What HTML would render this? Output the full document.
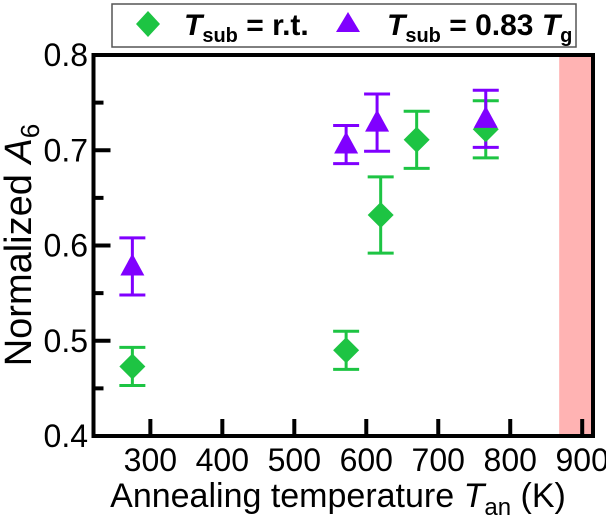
<!DOCTYPE html>
<html><head><meta charset="utf-8"><style>
body{margin:0;background:#fff}
svg{display:block;font-family:"Liberation Sans",sans-serif}
</style></head><body>
<svg width="606" height="520" viewBox="0 0 606 520">
<rect x="0" y="0" width="606" height="520" fill="#fff"/>
<rect x="868" y="0" width="0" height="0" id="band" fill="#ffb3b3"/>
<g id="ticks"></g>
<g id="marks"></g>
<rect x="93.5" y="55" width="499.5" height="381" fill="none" stroke="#000" stroke-width="4"/>
<g>
<rect x="112" y="4" width="464" height="43" fill="#fff" stroke="#555" stroke-width="1.5"/>
<polygon points="148,11 160,24 148,37 136,24" fill="#1dc443"/>
<text x="184" y="35" font-size="30" font-weight="bold"><tspan font-style="italic">T</tspan><tspan font-size="20" dy="7">sub</tspan><tspan dy="-7"> = r.t.</tspan></text>
<polygon points="348,12 360,32 336,32" fill="#8000ff"/>
<text x="387" y="35" font-size="30" font-weight="bold"><tspan font-style="italic">T</tspan><tspan font-size="20" dy="7">sub</tspan><tspan dy="-7"> = 0.83 </tspan><tspan font-style="italic">T</tspan><tspan font-size="20" dy="7">g</tspan></text>
</g>
<text x="338" y="507" font-size="34" text-anchor="middle">Annealing temperature <tspan font-style="italic">T</tspan><tspan font-size="24" dy="8">an</tspan><tspan dy="-8"> (K)</tspan></text>
<text transform="translate(31,245) rotate(-90)" font-size="38" text-anchor="middle">Normalized <tspan font-style="italic">A</tspan><tspan font-size="26" dy="8">6</tspan></text>
</svg>
<script>
const xTicks=[300,400,500,600,700,800,900];
const yTicks=[0.4,0.5,0.6,0.7,0.8];
const yMinor=[0.45,0.55,0.65,0.75];
const tgStart=868;
const rtT=[275,572,620,670,766];
const rtVal=[0.473,0.490,0.632,0.711,0.722];
const rtErr=[0.020,0.020,0.040,0.030,0.030];
const hT=[275,572,615,766];
const hVal=[0.578,0.706,0.729,0.733];
const hErr=[0.030,0.020,0.030,0.030];
const X0=93.5,X1=593,Y0=436,Y1=55;
const sx=t=>X0+(t-221)/(915-221)*(X1-X0);
const sy=v=>Y0-(v-0.4)/0.4*(Y0-Y1);
const NS="http://www.w3.org/2000/svg";
function mk(tag,attrs,parent){const e=document.createElementNS(NS,tag);for(const k in attrs)e.setAttribute(k,attrs[k]);parent.appendChild(e);return e;}
const band=document.getElementById('band');
band.setAttribute('x',sx(tgStart));band.setAttribute('y',Y1);band.setAttribute('width',X1-sx(tgStart));band.setAttribute('height',Y0-Y1);
const tk=document.getElementById('ticks'),mg=document.getElementById('marks');
xTicks.forEach(t=>{
 const l=mk('line',{x1:sx(t),x2:sx(t),y1:Y0,y2:Y0-17,stroke:'#000','stroke-width':4},tk);
 
 
 const tx=mk('text',{x:sx(t),y:471,'font-size':32,'text-anchor':'middle'},tk);tx.textContent=t;
 
 
});
yTicks.forEach(v=>{
 const l=mk('line',{x1:X0,x2:X0+17,y1:sy(v),y2:sy(v),stroke:'#000','stroke-width':4},tk);
 
 
 const tx=mk('text',{x:88,y:sy(v)+11,'font-size':32,'text-anchor':'end'},tk);tx.textContent=v.toFixed(1);
 
 
});
yMinor.forEach(v=>{
 const l=mk('line',{x1:X0,x2:X0+10,y1:sy(v),y2:sy(v),stroke:'#000','stroke-width':4},tk);
 
 
});
function err(t,v,e,c){
 const g=mk('g',{stroke:c,'stroke-width':3,fill:'none'},mg);
 
 
 const x=sx(t),a=sy(v+e),b=sy(v-e);
 mk('line',{x1:x,x2:x,y1:a,y2:b},g);mk('line',{x1:x-13,x2:x+13,y1:a,y2:a},g);mk('line',{x1:x-13,x2:x+13,y1:b,y2:b},g);
}
rtT.forEach((t,i)=>err(t,rtVal[i],rtErr[i],'#1dc443'));
hT.forEach((t,i)=>err(t,hVal[i],hErr[i],'#8000ff'));
rtT.forEach((t,i)=>{const x=sx(t),y=sy(rtVal[i]);
 const p=mk('polygon',{points:`${x},${y-13} ${x+13},${y} ${x},${y+13} ${x-13},${y}`,fill:'#1dc443'},mg);
 
 });
hT.forEach((t,i)=>{const x=sx(t),y=sy(hVal[i]);
 const p=mk('polygon',{points:`${x},${y-13} ${x+12},${y+9} ${x-12},${y+9}`,fill:'#8000ff'},mg);
 
 });
</script>
</body></html>
